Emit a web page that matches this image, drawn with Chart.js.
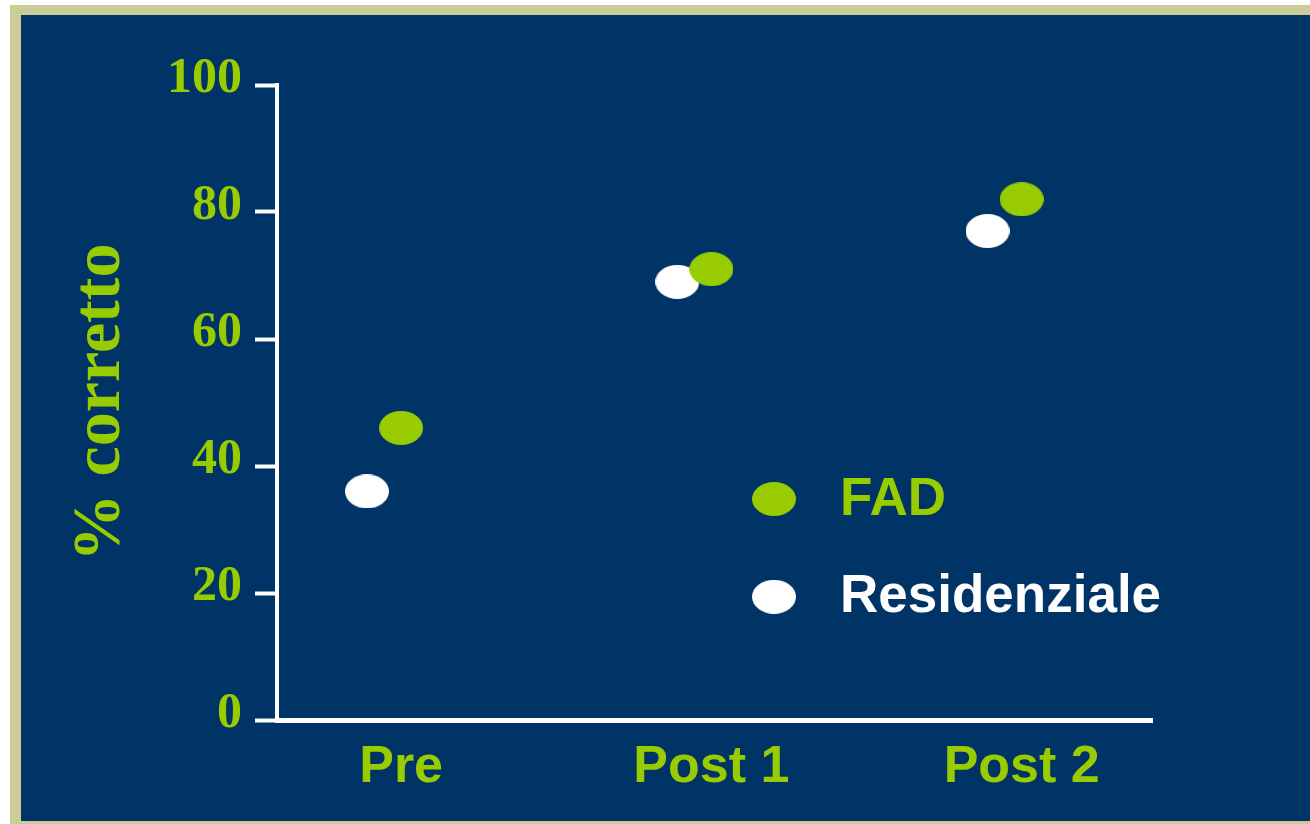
<!DOCTYPE html>
<html>
<head>
<meta charset="utf-8">
<title>% corretto</title>
<script src="https://cdn.jsdelivr.net/npm/chart.js@4.4.1/dist/chart.umd.min.js"></script>
<style>
    html, body { margin: 0; padding: 0; background: #ffffff; width: 1310px; height: 824px; overflow: hidden; }
    #frame { position: absolute; left: 10px; top: 5px; width: 1320px; height: 830px; background: #cccc99; }
    #panel { position: absolute; left: 21px; top: 15px; width: 1289px; height: 806px; background: #003366; }
</style>
</head>
<body>
<div id="frame"></div>
<div id="panel"><canvas id="chart"></canvas></div>
<script>
    'use strict';

    // --- data ---
    const categories = ['Pre', 'Post 1', 'Post 2'];
    const seriesNames = ['FAD', 'Residenziale'];
    const fadValues = [46, 71, 82];
    const residenzialeValues = [36, 69, 77];
    const yTicks = [0, 20, 40, 60, 80, 100];

    const GREEN = '#99cc00';
    const WHITE = '#ffffff';

    // ellipse marker used both for the points and for the legend
    function ellipseMarker(color) {
        const c = document.createElement('canvas');
        c.width = 44; c.height = 34;
        const g = c.getContext('2d');
        g.fillStyle = color;
        g.beginPath();
        g.ellipse(22, 17, 22, 17, 0, 0, Math.PI * 2);
        g.fill();
        return c;
    }

    // legend drawn inside the plot area, text coloured like its marker
    const insideLegend = {
        id: 'insideLegend',
        afterDraw(chart) {
            const { ctx, chartArea: ca } = chart;
            const w = ca.right - ca.left, h = ca.bottom - ca.top;
            const mx = ca.left + 0.568 * w;
            const rows = [0.652, 0.806];
            ctx.save();
            ctx.font = 'bold 53px "Liberation Sans", Arial, sans-serif';
            ctx.textBaseline = 'middle';
            ctx.textAlign = 'left';
            chart.data.datasets.forEach((ds, i) => {
                const y = ca.top + rows[i] * h;
                ctx.drawImage(ds.pointStyle, mx - 22, y - 17);
                ctx.fillStyle = ds.backgroundColor;
                ctx.fillText(ds.label, mx + 66, y + 1);
            });
            ctx.restore();
        }
    };

    const dodge = [0, -0.11]; // horizontal shift of each series inside a category

    new Chart(document.getElementById('chart').getContext('2d'), {
        type: 'scatter',
        data: {
            datasets: [
                {
                    label: seriesNames[0],
                    data: fadValues.map((v, i) => ({ x: i + dodge[0], y: v })),
                    backgroundColor: GREEN,
                    pointStyle: ellipseMarker(GREEN),
                    pointRadius: 20
                },
                {
                    label: seriesNames[1],
                    data: residenzialeValues.map((v, i) => ({ x: i + dodge[1], y: v })),
                    backgroundColor: WHITE,
                    pointStyle: ellipseMarker(WHITE),
                    pointRadius: 20
                }
            ]
        },
        options: {
            responsive: true,
            maintainAspectRatio: false,
            animation: false,
            events: [],
            layout: { padding: { top: 70, right: 158, left: 0, bottom: 0 } },
            plugins: { legend: { display: false }, tooltip: { enabled: false } },
            scales: {
                x: {
                    type: 'linear',
                    min: -0.40,
                    max: 2.42,
                    afterBuildTicks: s => { s.ticks = categories.map((c, i) => ({ value: i })); },
                    afterFit: s => { s.height = 101; },
                    grid: { display: false, drawTicks: false },
                    border: { color: WHITE, width: 5 },
                    ticks: {
                        color: GREEN,
                        padding: 16,
                        font: { family: '"Liberation Sans", Arial, sans-serif', size: 52, weight: 'bold' },
                        callback: v => categories[v]
                    }
                },
                y: {
                    min: 0,
                    max: 100,
                    afterBuildTicks: s => { s.ticks = yTicks.map(v => ({ value: v })); },
                    afterFit: s => { s.width = 256; },
                    grid: { drawOnChartArea: false, drawTicks: true, tickLength: 22, tickWidth: 4, tickColor: WHITE },
                    border: { color: WHITE, width: 4 },
                    ticks: {
                        color: GREEN,
                        padding: 13,
                        labelOffset: -6,
                        font: { family: '"Liberation Serif", "Times New Roman", serif', size: 50, weight: 'bold' }
                    },
                    title: {
                        display: true,
                        text: '% corretto',
                        color: GREEN,
                        padding: { top: 40, bottom: 0 },
                        font: { family: '"Liberation Serif", "Times New Roman", serif', size: 68, weight: 'bold' }
                    }
                }
            }
        },
        plugins: [insideLegend]
    });
</script>
</body>
</html>
